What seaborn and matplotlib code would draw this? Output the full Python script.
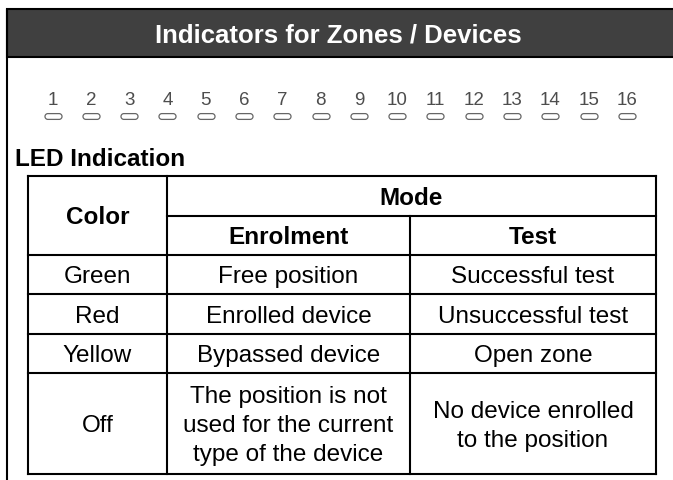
import numpy as np
import matplotlib
matplotlib.use("Agg")
import matplotlib.pyplot as plt
from matplotlib.path import Path
from matplotlib.patches import Rectangle
from matplotlib.transforms import blended_transform_factory
import seaborn as sns
import pandas as pd

# ---------------- data ----------------
title = "Indicators for Zones / Devices"
zones = list(range(1, 17))
section_title = "LED Indication"
col_header = "Color"
mode_header = "Mode"
mode_names = ["Enrolment", "Test"]
led_colors = ["Green", "Red", "Yellow", "Off"]
enrolment_meaning = ["Free position", "Enrolled device", "Bypassed device",
                     "The position is not\nused for the current\ntype of the device"]
test_meaning = ["Successful test", "Unsuccessful test", "Open zone",
                "No device enrolled\nto the position"]

sns.set_theme(style="white")
plt.rcParams["font.family"] = ["Liberation Sans", "DejaVu Sans"]
plt.rcParams["text.color"] = "black"

W, H = 673, 480
PX = 100 / 72.0  # pixels per point
fig = plt.figure(figsize=(W / 100, H / 100), dpi=100)
ax = fig.add_axes([0, 0, 1, 1])
ax.set_xlim(0, W)
ax.set_ylim(H, 0)
ax.axis("off")

LW = 1.5


def put(x, yc, s, fs, bold=False, color="black", spacing=29.0):
    """Place (possibly multi-line) text visually centred on yc."""
    lines = s.split("\n")
    n = len(lines)
    cap = 0.716 * fs * PX
    for k, line in enumerate(lines):
        y = yc + (k - (n - 1) / 2) * spacing
        ax.text(x, y + cap / 2, line, fontsize=fs, fontweight="bold" if bold else "normal",
                color=color, ha="center", va="baseline")


# header band and frame
ax.add_patch(Rectangle((6.5, 9), W, 48, facecolor="#404040", edgecolor="black", lw=LW, zorder=1))
ax.plot([6.5, 6.5], [9, H], color="black", lw=LW, zorder=2, solid_capstyle="butt")
put(338, 33, title, 18.5, bold=True, color="white")

# zone strip
zx0, zx1 = 52.5 - 19.15, 627 + 19.15
zy0, zy1 = 89, 125
axz = fig.add_axes([zx0 / W, 1 - zy1 / H, (zx1 - zx0) / W, (zy1 - zy0) / H])
axz.patch.set_alpha(0)

# capsule marker
r = 0.17
t1 = np.linspace(np.pi / 2, 3 * np.pi / 2, 20)
t2 = np.linspace(-np.pi / 2, np.pi / 2, 20)
cx = 0.5 - r
verts = np.concatenate([
    np.column_stack([-cx + r * np.cos(t1), r * np.sin(t1)]),
    np.column_stack([cx + r * np.cos(t2), r * np.sin(t2)]),
])
verts = np.vstack([verts, verts[:1]])
capsule = Path(verts, closed=True)

df = pd.DataFrame({"zone": zones, "row": [1] * len(zones)})
sns.scatterplot(data=df, x="zone", y="row", marker=capsule, s=150,
                facecolor="white", edgecolor="#666666", linewidth=0.9, ax=axz, legend=False)
axz.set_xlim(0.5, 16.5)
axz.set_ylim(1.5, -0.5)
axz.axis("off")

tz = blended_transform_factory(axz.transData, ax.transData)
num_fs = 13.5
for z in zones:
    ax.text(z, 98 + 0.716 * num_fs * PX / 2, str(z), transform=tz, ha="center", va="baseline",
            fontsize=num_fs, color="#4d4d4d")

# section title
ax.text(15, 157.5 + 0.716 * 17.5 * PX / 2, section_title, fontsize=17.5, fontweight="bold",
        ha="left", va="baseline")

# table geometry
L, R = 28, 656
c1, c2 = 167, 410
top, mode_line, head_bot = 176, 216, 255
row_lines = [head_bot, 294, 334, 373, 474]


def hl(y, x0, x1):
    ax.plot([x0, x1], [y, y], color="black", lw=LW, solid_capstyle="projecting")


def vl(x, y0, y1):
    ax.plot([x, x], [y0, y1], color="black", lw=LW, solid_capstyle="projecting")


hl(top, L, R)
hl(mode_line, c1, R)
for y in row_lines:
    hl(y, L, R)
vl(L, top, row_lines[-1])
vl(R, top, row_lines[-1])
vl(c1, top, row_lines[-1])
vl(c2, mode_line, row_lines[-1])

FS = 17.5
put((L + c1) / 2, (top + head_bot) / 2, col_header, FS, bold=True)
put((c1 + R) / 2, (top + mode_line) / 2, mode_header, FS, bold=True)
put((c1 + c2) / 2, (mode_line + head_bot) / 2, mode_names[0], FS, bold=True)
put((c2 + R) / 2, (mode_line + head_bot) / 2, mode_names[1], FS, bold=True)

for i, (c, e, t) in enumerate(zip(led_colors, enrolment_meaning, test_meaning)):
    yc = (row_lines[i] + row_lines[i + 1]) / 2
    put((L + c1) / 2, yc, c, FS)
    put((c1 + c2) / 2, yc, e, FS)
    put((c2 + R) / 2, yc, t, FS)

fig.savefig("out.png", dpi=100)
